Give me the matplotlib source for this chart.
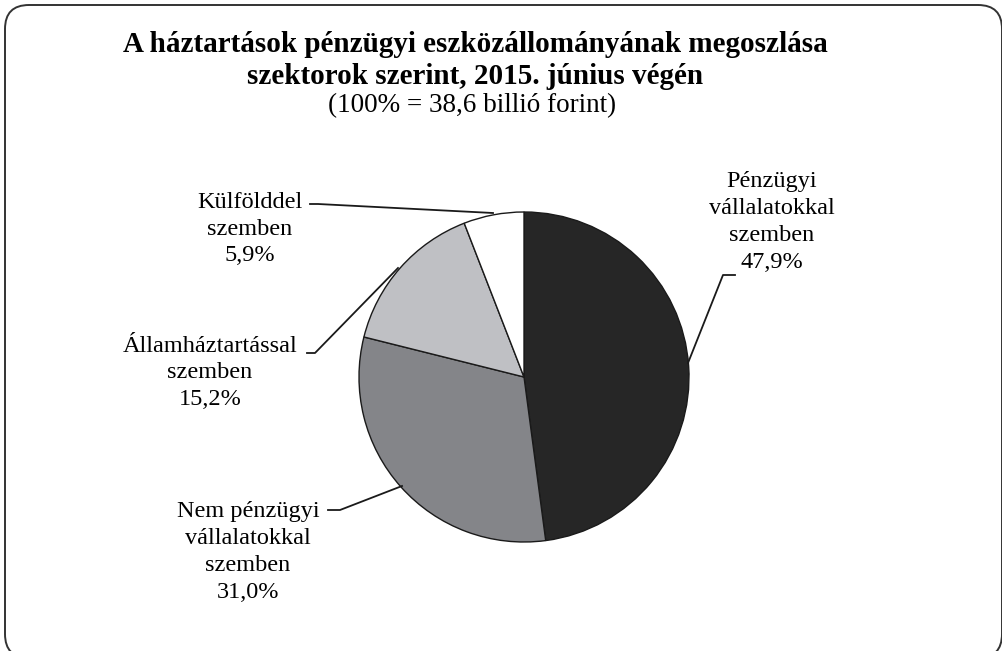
import matplotlib.pyplot as plt
from matplotlib.patches import FancyBboxPatch
import numpy as np

plt.rcParams['font.family'] = ['Liberation Serif', 'DejaVu Serif']

# shares, clockwise from 12 o'clock
labels = ['Pénzügyi\nvállalatokkal\nszemben',
          'Nem pénzügyi\nvállalatokkal\nszemben',
          'Államháztartással\nszemben',
          'Külfölddel\nszemben']
shares = [47.9, 31.0, 15.2, 5.9]
colors = ['#262626', '#848589', '#bfc0c4', '#ffffff']

W, H = 1002, 651
fig = plt.figure(figsize=(W / 100, H / 100), dpi=100)

# rounded frame (inches), runs slightly off the right and bottom edges
frame = FancyBboxPatch((0.05, -0.07), 9.97, 6.53,
                       boxstyle='round,pad=0,rounding_size=0.24',
                       transform=fig.dpi_scale_trans, fill=False,
                       edgecolor='#333333', linewidth=1.4)
fig.patches.append(frame)

fig.text(475 / W, 1 - 45 / H, 'A háztartások pénzügyi eszközállományának megoszlása',
         ha='center', va='center', fontsize=21, fontweight='bold')
fig.text(475 / W, 1 - 77 / H, 'szektorok szerint, 2015. június végén',
         ha='center', va='center', fontsize=21, fontweight='bold')
fig.text(472 / W, 1 - 106 / H, '(100% = 38,6 billió forint)',
         ha='center', va='center', fontsize=19.5)

# pie, centre (524, 377) px, radius 165 px
cx, cy, r = 524, 377, 165
ax = fig.add_axes([(cx - r) / W, (H - cy - r) / H, 2 * r / W, 2 * r / H])
wedges, _ = ax.pie(shares, colors=colors, startangle=90, counterclock=False,
                   wedgeprops=dict(edgecolor='#1a1a1a', linewidth=1.0))
ax.set_xlim(-1, 1)
ax.set_ylim(-1, 1)
ax.axis('off')

# label texts (x, y of text centre in image px)
txt = [f'{l}\n{v:.1f}%'.replace('.', ',') for l, v in zip(labels, shares)]
fs = 17.5
ls = 1.36
fig.text(772 / W, 1 - 222 / H, txt[0], ha='center', va='center', fontsize=fs, linespacing=ls)
fig.text(248 / W, 1 - 552 / H, txt[1], ha='center', va='center', fontsize=fs, linespacing=ls)
fig.text(210 / W, 1 - 373 / H, txt[2], ha='center', va='center', fontsize=fs, linespacing=ls)
fig.text(250 / W, 1 - 229 / H, txt[3], ha='center', va='center', fontsize=fs, linespacing=ls)

# leader lines: (pie edge point, elbow, end) in image px
leaders = [
    [(688, 363), (723, 275), (735, 275)],
    [(402, 486), (340, 510), (328, 510)],
    [(398, 268), (315, 353), (307, 353)],
    [(493, 213), (318, 204), (310, 204)],
]
for pts in leaders:
    xs = [p[0] / W for p in pts]
    ys = [1 - p[1] / H for p in pts]
    fig.add_artist(plt.Line2D(xs, ys, color='#1a1a1a', linewidth=1.3,
                              transform=fig.transFigure))

fig.savefig('out.png', dpi=100)
